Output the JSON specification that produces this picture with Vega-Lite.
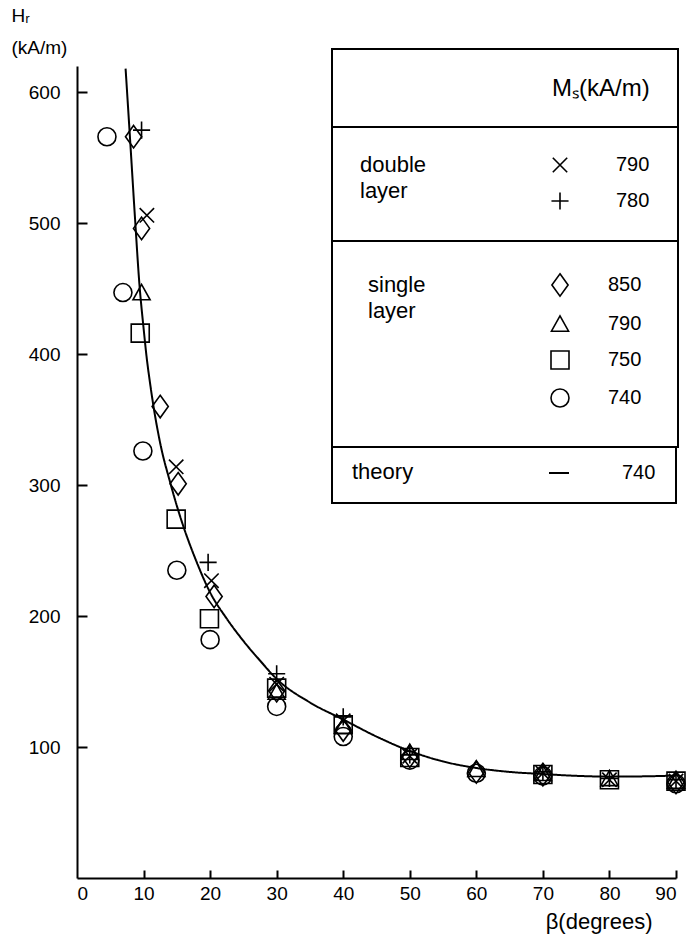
{
  "$schema": "https://vega.github.io/schema/vega-lite/v6.json",
  "width": 599,
  "height": 812,
  "autosize": "none",
  "padding": {"left": 77, "top": 66, "right": 20, "bottom": 62},
  "background": "white",
  "config": {
    "view": {"stroke": null},
    "font": "Liberation Sans",
    "axis": {
      "domain": false,
      "ticks": false,
      "grid": true,
      "gridColor": "black",
      "gridWidth": 2,
      "gridOpacity": 1,
      "labelColor": "black",
      "labelFont": "Liberation Sans",
      "labelFontSize": 19,
      "titleFont": "Liberation Sans",
      "titleFontSize": 19,
      "titleFontWeight": "normal",
      "titleColor": "black"
    },
    "legend": {
      "orient": "none",
      "strokeColor": "black",
      "strokeWidth": 2,
      "fillColor": "white",
      "padding": 28,
      "titleOrient": "left",
      "titleAnchor": "start",
      "titleFont": "Liberation Sans",
      "titleFontSize": 22,
      "titleFontWeight": "normal",
      "titleColor": "black",
      "titleLineHeight": 26,
      "labelFont": "Liberation Sans",
      "labelFontSize": 20,
      "labelColor": "black",
      "symbolStrokeColor": "black",
      "symbolStrokeWidth": 1.6,
      "symbolFillColor": "transparent",
      "symbolSize": 324
    }
  },
  "datasets": {
    "theory": [
      {"beta": 7.3, "H": 618}, {"beta": 8.0, "H": 562}, {"beta": 8.7, "H": 505},
      {"beta": 9.4, "H": 452}, {"beta": 10.0, "H": 420}, {"beta": 10.5, "H": 396},
      {"beta": 11.0, "H": 377}, {"beta": 11.5, "H": 360}, {"beta": 12.5, "H": 332},
      {"beta": 14.0, "H": 302}, {"beta": 15.5, "H": 276}, {"beta": 18.0, "H": 241},
      {"beta": 20.0, "H": 218}, {"beta": 22.5, "H": 198}, {"beta": 25.0, "H": 181},
      {"beta": 27.5, "H": 166}, {"beta": 30.0, "H": 152}, {"beta": 35.0, "H": 134},
      {"beta": 40.0, "H": 121}, {"beta": 45.0, "H": 108}, {"beta": 50.0, "H": 97},
      {"beta": 55.0, "H": 89}, {"beta": 60.0, "H": 84}, {"beta": 65.0, "H": 81},
      {"beta": 70.0, "H": 79.4}, {"beta": 75.0, "H": 78}, {"beta": 80.0, "H": 77.4},
      {"beta": 85.0, "H": 77.6}, {"beta": 90.0, "H": 78.2}
    ],
    "single": [
      {"series": "s850", "beta": 8.5, "H": 566}, {"series": "s850", "beta": 9.7, "H": 496},
      {"series": "s850", "beta": 12.5, "H": 360}, {"series": "s850", "beta": 15.2, "H": 301},
      {"series": "s850", "beta": 20.6, "H": 215}, {"series": "s850", "beta": 30, "H": 143},
      {"series": "s850", "beta": 40, "H": 113}, {"series": "s850", "beta": 50, "H": 93},
      {"series": "s850", "beta": 60, "H": 81}, {"series": "s850", "beta": 70, "H": 79},
      {"series": "s850", "beta": 90, "H": 73},
      {"series": "s790", "beta": 9.7, "H": 447}, {"series": "s790", "beta": 30, "H": 142},
      {"series": "s790", "beta": 40, "H": 116}, {"series": "s790", "beta": 50, "H": 96},
      {"series": "s790", "beta": 60, "H": 83}, {"series": "s790", "beta": 70, "H": 80},
      {"series": "s790", "beta": 80, "H": 76}, {"series": "s790", "beta": 90, "H": 74},
      {"series": "s750", "beta": 9.5, "H": 416}, {"series": "s750", "beta": 14.9, "H": 274},
      {"series": "s750", "beta": 19.9, "H": 198}, {"series": "s750", "beta": 30, "H": 145},
      {"series": "s750", "beta": 40, "H": 117}, {"series": "s750", "beta": 50, "H": 92},
      {"series": "s750", "beta": 70, "H": 79}, {"series": "s750", "beta": 80, "H": 75},
      {"series": "s750", "beta": 90, "H": 74},
      {"series": "s740", "beta": 4.5, "H": 566}, {"series": "s740", "beta": 6.9, "H": 447},
      {"series": "s740", "beta": 9.9, "H": 326}, {"series": "s740", "beta": 15, "H": 235},
      {"series": "s740", "beta": 20, "H": 182}, {"series": "s740", "beta": 30, "H": 131},
      {"series": "s740", "beta": 40, "H": 108}, {"series": "s740", "beta": 50, "H": 90},
      {"series": "s740", "beta": 60, "H": 80}, {"series": "s740", "beta": 70, "H": 78},
      {"series": "s740", "beta": 90, "H": 72}
    ],
    "double": [
      {"series": "d790", "beta": 10.5, "H": 506}, {"series": "d790", "beta": 14.9, "H": 314},
      {"series": "d790", "beta": 20.2, "H": 227}, {"series": "d790", "beta": 30, "H": 148},
      {"series": "d790", "beta": 40, "H": 120}, {"series": "d790", "beta": 50, "H": 93},
      {"series": "d790", "beta": 70, "H": 80}, {"series": "d790", "beta": 80, "H": 75},
      {"series": "d790", "beta": 90, "H": 74},
      {"series": "d780", "beta": 9.7, "H": 571}, {"series": "d780", "beta": 19.7, "H": 241},
      {"series": "d780", "beta": 30, "H": 156}, {"series": "d780", "beta": 40, "H": 123},
      {"series": "d780", "beta": 50, "H": 94}, {"series": "d780", "beta": 70, "H": 81},
      {"series": "d780", "beta": 80, "H": 76}, {"series": "d780", "beta": 90, "H": 75}
    ]
  },
  "encoding": {
    "x": {
      "field": "beta", "type": "quantitative",
      "scale": {"domain": [0, 90], "nice": false},
      "axis": {
        "values": [0, 10, 20, 30, 40, 50, 60, 70, 80, 90],
        "gridDash": {"condition": {"test": "datum.value === 0", "value": []}, "value": [0, 804, 8, 2000]},
        "labelPadding": 6,
        "title": "β(degrees)",
        "titleFontSize": 22,
        "titleX": 575, "titleY": 50,
        "titleAlign": "right", "titleBaseline": "alphabetic"
      }
    },
    "y": {
      "field": "H", "type": "quantitative",
      "scale": {"domain": [0, 620], "nice": false},
      "axis": {
        "values": [0, 100, 200, 300, 400, 500, 600],
        "labelExpr": "datum.value === 0 ? '' : datum.label",
        "gridDash": {"condition": {"test": "datum.value === 0", "value": []}, "value": [10, 2000]},
        "labelPadding": 17,
        "title": ["Hᵣ", "(kA/m)"],
        "titleAngle": 0, "titleAlign": "left", "titleBaseline": "alphabetic",
        "titleX": -66, "titleY": -45, "titleLineHeight": 32
      }
    }
  },
  "layer": [
    {
      "data": {"name": "theory"},
      "mark": {"type": "line", "strokeWidth": 2, "interpolate": "monotone"},
      "encoding": {
        "color": {
          "datum": "740",
          "scale": {"range": ["black"]},
          "legend": {
            "title": "theory", "symbolType": "stroke", "symbolSize": 400,
            "symbolStrokeWidth": 2, "symbolStrokeColor": "black",
            "padding": 20, "titlePadding": 134, "labelOffset": 52,
            "legendX": 255, "legendY": 376
          }
        },
        "strokeDash": {
          "datum": "Mₛ(kA/m)",
          "scale": {"range": [[1, 0]]},
          "legend": {
            "title": " ", "symbolOpacity": 0, "symbolSize": 1,
            "labelFontSize": 24, "titlePadding": 163, "labelOffset": 5,
            "legendX": 255, "legendY": -17
          }
        }
      }
    },
    {
      "data": {"name": "single"},
      "mark": {"type": "point", "filled": false, "color": "black", "strokeWidth": 1.6, "size": 324, "opacity": 1},
      "encoding": {
        "shape": {
          "field": "series", "type": "nominal",
          "scale": {
            "domain": ["s850", "s790", "s750", "s740"],
            "range": ["M0,-1.25L0.9,0L0,1.25L-0.9,0Z", "M0,-0.9L0.95,0.8L-0.95,0.8Z", "square", "circle"]
          },
          "legend": {
            "title": ["single", "layer"],
            "labelExpr": "substring(datum.label, 1)",
            "padding": 36,
            "titlePadding": 124, "labelOffset": 38, "rowPadding": 12,
            "legendX": 255, "legendY": 173
          }
        }
      }
    },
    {
      "data": {"name": "double"},
      "mark": {"type": "point", "filled": false, "color": "black", "strokeWidth": 1.6, "size": 324, "opacity": 1},
      "encoding": {
        "shape": {
          "field": "series", "type": "nominal",
          "scale": {
            "domain": ["d790", "d780"],
            "range": ["M-0.8,-0.8L0.8,0.8M-0.8,0.8L0.8,-0.8", "M-0.95,0L0.95,0M0,-0.95L0,0.95"]
          },
          "legend": {
            "title": ["double", "layer"],
            "labelExpr": "substring(datum.label, 1)",
            "titlePadding": 123, "labelOffset": 46, "rowPadding": 13,
            "legendX": 255, "legendY": 61
          }
        }
      }
    }
  ],
  "resolve": {"scale": {"shape": "independent"}, "legend": {"shape": "independent"}}
}
